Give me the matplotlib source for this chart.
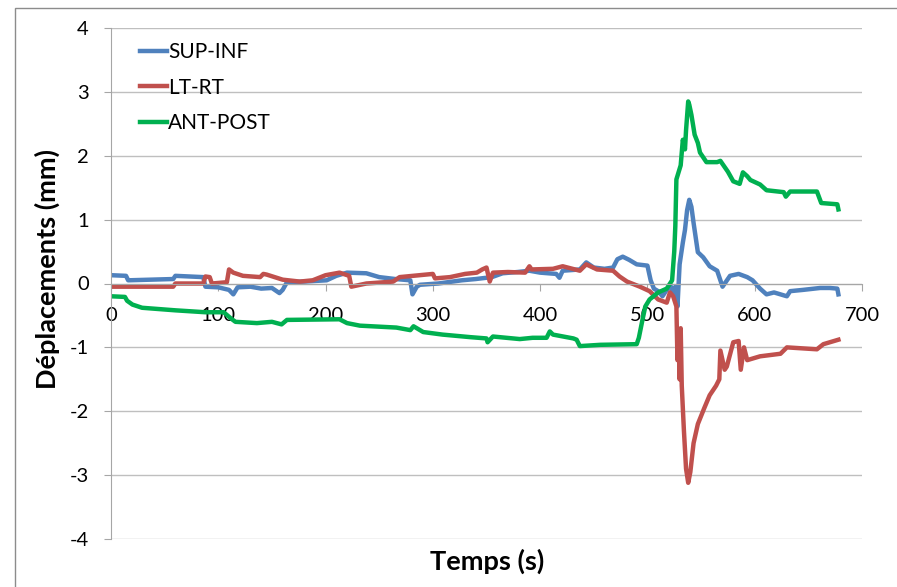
import matplotlib.pyplot as plt
from matplotlib.patches import Rectangle

plt.rcParams['font.family'] = ['Lato', 'DejaVu Sans']
plt.rcParams['axes.unicode_minus'] = False

# Data (time in s, displacement in mm)
sup_inf_t = [0, 14, 16, 58, 60, 86, 88, 100, 110, 114, 118, 130, 140, 150, 157,
             160, 164, 180, 201, 210, 220, 238, 250, 265, 279, 281, 285, 288, 305, 327,
             340, 355, 365, 379, 390, 400, 415, 418, 421, 437, 443, 450, 460, 468, 472,
             477, 483, 490, 500, 503, 506, 510, 514, 518, 522, 524, 526, 528, 530, 533,
             535, 537, 539, 541, 543, 547, 552, 558, 565, 570, 577, 585, 593, 598, 605,
             611, 618, 630, 633, 645, 661, 670, 677, 678]
sup_inf_v = [0.13, 0.12, 0.05, 0.07, 0.12, 0.1, -0.05, -0.06, -0.1, -0.17, -0.06, -0.05, -0.08, -0.07, -0.15,
             -0.1, 0.02, 0.03, 0.05, 0.12, 0.17, 0.16, 0.1, 0.07, 0.05, -0.17, -0.05, -0.02, 0.0, 0.05,
             0.07, 0.1, 0.16, 0.18, 0.2, 0.17, 0.15, 0.09, 0.2, 0.22, 0.33, 0.25, 0.23, 0.25, 0.38,
             0.42, 0.37, 0.3, 0.28, 0.05, -0.08, -0.12, -0.2, -0.1, -0.05, -0.15, -0.05, -0.36, 0.3, 0.64,
             0.84, 1.15, 1.31, 1.2, 0.95, 0.49, 0.41, 0.27, 0.2, -0.05, 0.12, 0.15, 0.1, 0.05, -0.08,
             -0.17, -0.14, -0.2, -0.12, -0.1, -0.07, -0.07, -0.08, -0.17]

lt_rt_t = [0, 58, 60, 86, 88, 92, 94, 108, 110, 114, 123, 139, 142, 145, 160,
           176, 188, 200, 213, 222, 224, 238, 263, 269, 300, 302, 316, 330, 341, 346,
           350, 353, 356, 370, 386, 390, 392, 412, 421, 437, 443, 453, 468, 474, 481,
           493, 502, 510, 518, 521, 524, 527, 528, 529, 530, 531, 532, 534, 536, 538,
           540, 543, 547, 553, 558, 564, 567, 568, 572, 574, 580, 585, 587, 590, 593,
           605, 624, 630, 658, 664, 678]
lt_rt_v = [-0.05, -0.05, 0.0, 0.0, 0.11, 0.1, 0.0, 0.02, 0.22, 0.17, 0.12, 0.1, 0.15, 0.14, 0.06,
           0.03, 0.05, 0.13, 0.17, 0.12, -0.05, 0.0, 0.03, 0.1, 0.15, 0.08, 0.1, 0.15, 0.17, 0.22,
           0.25, 0.03, 0.17, 0.18, 0.17, 0.27, 0.22, 0.23, 0.27, 0.2, 0.3, 0.22, 0.2, 0.11, 0.03,
           -0.05, -0.12, -0.25, -0.3, -0.14, -0.2, -0.36, -1.2, -0.8, -1.5, -0.7, -1.6, -2.3, -2.9, -3.12,
           -2.95, -2.5, -2.2, -1.95, -1.75, -1.6, -1.5, -1.05, -1.35, -1.3, -0.92, -0.9, -1.35, -1.0, -1.2,
           -1.14, -1.1, -1.0, -1.03, -0.95, -0.88]

ant_post_t = [0, 13, 15, 20, 29, 60, 88, 105, 112, 116, 136, 150, 159, 164, 213,
              220, 232, 266, 279, 282, 291, 309, 335, 350, 351, 356, 381, 393, 406, 409,
              412, 431, 434, 437, 456, 490, 492, 495, 498, 502, 510, 518, 523, 525, 526,
              527, 531, 533, 535, 536, 538, 539, 541, 544, 547, 549, 555, 565, 568, 575,
              580, 586, 589, 593, 596, 605, 611, 627, 629, 633, 658, 662, 677, 678]
ant_post_v = [-0.2, -0.21, -0.27, -0.33, -0.38, -0.42, -0.45, -0.45, -0.55, -0.6, -0.62, -0.6, -0.64, -0.57, -0.56,
              -0.62, -0.66, -0.69, -0.73, -0.67, -0.76, -0.8, -0.84, -0.86, -0.92, -0.83, -0.87, -0.85, -0.85, -0.75,
              -0.8, -0.86, -0.88, -0.98, -0.96, -0.95, -0.85, -0.6, -0.36, -0.25, -0.14, -0.08, 0.05, 0.5, 0.9,
              1.63, 1.85, 2.25, 2.1, 2.4, 2.85, 2.8, 2.64, 2.33, 2.2, 2.05, 1.9, 1.9, 1.92, 1.75,
              1.6, 1.56, 1.74, 1.68, 1.62, 1.55, 1.46, 1.43, 1.36, 1.44, 1.44, 1.26, 1.24, 1.16]

x_ticks = [0, 100, 200, 300, 400, 500, 600, 700]
y_ticks = [-4, -3, -2, -1, 0, 1, 2, 3, 4]

fig = plt.figure(figsize=(8.97, 5.87), dpi=100)
ax = fig.add_axes([111/897, 48/587, 751/897, 511/587])

#Chart area frame (only top and left edges visible in the crop)
fig.add_artist(Rectangle((15/897, -0.1), 1.1, 1 - 8/587 + 0.1, transform=fig.transFigure,
                         fill=False, edgecolor='#8C8C8C', lw=1))

ax.plot(sup_inf_t, sup_inf_v, color='#4F81BD', lw=3.2, label='SUP-INF')
ax.plot(lt_rt_t, lt_rt_v, color='#C0504D', lw=3.2, label='LT-RT')
ax.plot(ant_post_t, ant_post_v, color='#00B050', lw=3.2, label='ANT-POST')

ax.set_xlim(0, 700)
ax.set_ylim(-4, 4)
ax.set_xticks(x_ticks)
ax.set_yticks(y_ticks)
ax.set_yticklabels([str(v) for v in y_ticks])

ax.grid(axis='y', color='#BFBFBF', lw=1)
ax.set_axisbelow(True)
for side in ['top', 'right']:
    ax.spines[side].set_visible(False)
ax.spines['bottom'].set_position(('data', 0))
ax.spines['bottom'].set_color('#A6A6A6')
ax.spines['left'].set_color('#A6A6A6')

ax.tick_params(axis='x', direction='out', length=5, color='#A6A6A6', pad=12, labelsize=14.5)
ax.tick_params(axis='y', direction='out', length=5, color='#A6A6A6', pad=11, labelsize=14.5)

fig.text(487/897, 1 - 561/587, 'Temps (s)', ha='center', va='center',
         fontsize=19.5, fontweight='bold')
fig.text(47/897, 1 - 269/587, 'Déplacements (mm)', ha='center', va='center',
         rotation=90, fontsize=19.5, fontweight='bold')

leg = ax.legend(loc='upper left', bbox_to_anchor=(29/751, 1 - 14/511), frameon=False,
                fontsize=15, handlelength=1.3, handletextpad=0.05, labelspacing=0.75,
                borderpad=0, borderaxespad=0)

fig.savefig('out.png', dpi=100)
